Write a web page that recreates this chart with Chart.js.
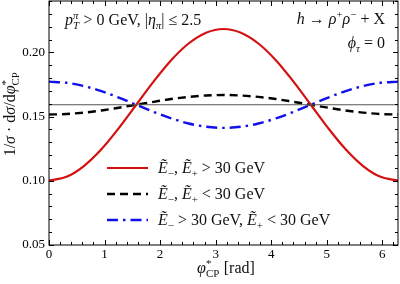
<!DOCTYPE html>
<html><head><meta charset="utf-8">
<script src="https://cdn.jsdelivr.net/npm/chart.js@4.4.0/dist/chart.umd.min.js"></script>
<style>html,body{margin:0;padding:0;background:#fff}#wrap{width:400px;height:284px;position:relative}</style>
</head><body><div id="wrap"><canvas id="c"></canvas></div>
<script>
// ---- data ----
const phiCP = [0, 0.3142, 0.6283, 0.9425, 1.2566, 1.5708, 1.8850, 2.1991, 2.5133, 2.8274, 3.1416,
               3.4558, 3.7699, 4.0841, 4.3982, 4.7124, 5.0265, 5.3407, 5.6549, 5.9690, 6.2832];
const redVals = [0.1002, 0.1031, 0.1115, 0.1245, 0.1410, 0.1592, 0.1774, 0.1939, 0.2069, 0.2153, 0.2182,
                 0.2153, 0.2069, 0.1939, 0.1774, 0.1592, 0.1410, 0.1245, 0.1115, 0.1031, 0.1002];
const blackVals = [0.1516, 0.1520, 0.1531, 0.1547, 0.1569, 0.1592, 0.1615, 0.1637, 0.1653, 0.1664, 0.1668,
                   0.1664, 0.1653, 0.1637, 0.1615, 0.1592, 0.1569, 0.1547, 0.1531, 0.1520, 0.1516];
const blueVals = [0.1772, 0.1763, 0.1738, 0.1698, 0.1648, 0.1592, 0.1536, 0.1486, 0.1446, 0.1421, 0.1412,
                  0.1421, 0.1446, 0.1486, 0.1536, 0.1592, 0.1648, 0.1698, 0.1738, 0.1763, 0.1772];
const flatX = [0, 6.2832];
const flatVals = [0.1592, 0.1592];
const xTickVals = [0, 1, 2, 3, 4, 5, 6];
const yTickVals = [0.05, 0.10, 0.15, 0.20];
const xRange = [0, 6.2832];
const yRange = [0.05, 0.24];

// ---- styling ----
const SERIF = '"Liberation Serif", "DejaVu Serif", serif';
const RED = 'rgb(212,16,16)', BLUE = 'rgb(16,16,235)', BLACK = '#000';
const BASE = 16;

function runFont(r, base){ return (r.i ? 'italic ' : '') + (base*(r.s||1)).toFixed(1) + 'px ' + SERIF; }
function runWidth(ctx, r, base){
  if (r.sup || r.sub){
    let w = 0;
    for (const p of [r.sup, r.sub]) if (p){ ctx.font = runFont(p, base); w = Math.max(w, ctx.measureText(p.t).width); }
    return w + 0.5;
  }
  ctx.font = runFont(r, base); return ctx.measureText(r.t).width;
}
function drawRuns(ctx, x, y, runs, base, align){
  const total = runs.reduce((a, r) => a + runWidth(ctx, r, base), 0);
  if (align === 'right') x -= total; else if (align === 'center') x -= total/2;
  ctx.textAlign = 'left'; ctx.textBaseline = 'alphabetic';
  for (const r of runs){
    if (r.sup || r.sub){
      for (const p of [r.sup, r.sub]) if (p){ ctx.font = runFont(p, base); ctx.fillText(p.t, x, y + p.dy); }
    } else { ctx.font = runFont(r, base); ctx.fillText(r.t, x, y + (r.dy||0)); }
    x += runWidth(ctx, r, base);
  }
}
const SUP = -6, SUB = 3.5, SM = 0.68;
const topLeftRuns = [{t:'p',i:1},{sup:{t:'π',i:1,s:SM,dy:SUP},sub:{t:'T',i:1,s:SM,dy:SUB}},{t:' > 0 GeV, |'},{t:'η',i:1},{t:'π',i:1,s:SM,dy:SUB},{t:'| ≤ 2.5'}];
const topRightRuns = [{t:'h',i:1},{t:' → '},{t:'ρ',i:1},{t:'+',s:SM,dy:SUP},{t:'ρ',i:1},{t:'−',s:SM,dy:SUP},{t:' + X'}];
const phiTauRuns = [{t:'ϕ',i:1},{t:'τ',i:1,s:SM,dy:SUB},{t:' = 0'}];
const legendRuns = [
  [{t:'Ẽ',i:1},{t:'−',s:SM,dy:SUB},{t:', '},{t:'Ẽ',i:1},{t:'+',s:SM,dy:SUB},{t:' > 30 GeV'}],
  [{t:'Ẽ',i:1},{t:'−',s:SM,dy:SUB},{t:', '},{t:'Ẽ',i:1},{t:'+',s:SM,dy:SUB},{t:' < 30 GeV'}],
  [{t:'Ẽ',i:1},{t:'−',s:SM,dy:SUB},{t:' > 30 GeV, '},{t:'Ẽ',i:1},{t:'+',s:SM,dy:SUB},{t:' < 30 GeV'}]
];
const xTitleRuns = [{t:'φ',i:1},{sup:{t:'*',s:SM,dy:SUP},sub:{t:'CP',s:SM,dy:SUB}},{t:' [rad]'}];
const yTitleRuns = [{t:'1/'},{t:'σ',i:1},{t:' · d'},{t:'σ',i:1},{t:'/d'},{t:'φ',i:1},{sup:{t:'*',s:SM,dy:SUP},sub:{t:'CP',s:SM,dy:SUB}}];

const seriesStyles = [
  {color: RED, width: 2.2, dash: []},
  {color: BLACK, width: 2.4, dash: [8, 5]},
  {color: BLUE, width: 2.4, dash: [11, 5, 2.5, 5]}
];

const pts = (xs, ys) => xs.map((x, i) => ({x, y: ys[i]}));

const framePlugin = {
  id: 'frame',
  afterDatasetsDraw(chart){
    const ctx = chart.ctx, a = chart.chartArea, xs = chart.scales.x, ys = chart.scales.y;
    ctx.save();
    ctx.strokeStyle = '#000'; ctx.lineWidth = 1; ctx.setLineDash([]);
    ctx.strokeRect(a.left, a.top, a.right - a.left, a.bottom - a.top);
    ctx.beginPath();
    for (let k = 0; k <= 31; k++){
      const v = k*0.2; if (v > xRange[1]) break;
      const px = Math.round(xs.getPixelForValue(v)) + 0.5;
      const len = (k % 5 === 0) ? 5 : 3;
      ctx.moveTo(px, a.bottom); ctx.lineTo(px, a.bottom - len);
      ctx.moveTo(px, a.top); ctx.lineTo(px, a.top + len);
    }
    for (let k = 5; k <= 24; k++){
      const py = Math.round(ys.getPixelForValue(k/100)) + 0.5;
      const len = (k % 5 === 0) ? 5 : 3;
      ctx.moveTo(a.left, py); ctx.lineTo(a.left + len, py);
      ctx.moveTo(a.right, py); ctx.lineTo(a.right - len, py);
    }
    ctx.stroke();

    ctx.fillStyle = '#111';
    drawRuns(ctx, 65, 25, topLeftRuns, BASE, 'left');
    drawRuns(ctx, 385, 24, topRightRuns, BASE, 'right');
    drawRuns(ctx, 385, 48, phiTauRuns, BASE, 'right');

    const ly = [168, 194, 220], ty = [173, 199, 225];
    seriesStyles.forEach((s, i) => {
      ctx.strokeStyle = s.color; ctx.lineWidth = s.width; ctx.setLineDash(s.dash);
      ctx.beginPath(); ctx.moveTo(107, ly[i]); ctx.lineTo(148, ly[i]); ctx.stroke();
      ctx.setLineDash([]);
      drawRuns(ctx, 158, ty[i], legendRuns[i], BASE, 'left');
    });

    drawRuns(ctx, 226, 273, xTitleRuns, BASE, 'center');
    ctx.save();
    ctx.translate(15, 114); ctx.rotate(-Math.PI/2);
    drawRuns(ctx, 0, 0, yTitleRuns, BASE, 'center');
    ctx.restore();
    ctx.restore();
  }
};

new Chart(document.getElementById('c'), {
  type: 'line',
  data: {
    datasets: [
      {data: pts(flatX, flatVals), borderColor: '#555', borderWidth: 1, pointRadius: 0, tension: 0},
      {data: pts(phiCP, redVals), borderColor: RED, borderWidth: 2.2, pointRadius: 0, cubicInterpolationMode: 'monotone'},
      {data: pts(phiCP, blackVals), borderColor: BLACK, borderWidth: 2.4, borderDash: [8, 5], pointRadius: 0, cubicInterpolationMode: 'monotone'},
      {data: pts(phiCP, blueVals), borderColor: BLUE, borderWidth: 2.4, borderDash: [11, 5, 2.5, 5], pointRadius: 0, cubicInterpolationMode: 'monotone'}
    ]
  },
  options: {
    responsive: true, maintainAspectRatio: false, animation: false,
    layout: {padding: {top: 1, right: 2, left: 0, bottom: 0}},
    plugins: {legend: {display: false}, tooltip: {enabled: false}},
    scales: {
      x: {
        type: 'linear', min: xRange[0], max: xRange[1],
        grid: {display: false, drawTicks: false}, border: {display: false},
        afterBuildTicks: s => { s.ticks = xTickVals.map(v => ({value: v})); },
        afterFit: s => { s.height = 39; s.paddingLeft = 0; s.paddingRight = 0; },
        ticks: {padding: 2, color: '#000', font: {family: SERIF, size: 13}, maxRotation: 0, callback: v => String(v)}
      },
      y: {
        min: yRange[0], max: yRange[1],
        grid: {display: false, drawTicks: false}, border: {display: false},
        afterBuildTicks: s => { s.ticks = yTickVals.map(v => ({value: v})); },
        afterFit: s => { s.width = 49; s.paddingTop = 0; s.paddingBottom = 0; },
        ticks: {padding: 4, color: '#000', font: {family: SERIF, size: 13}, callback: v => v.toFixed(2)}
      }
    }
  },
  plugins: [framePlugin]
});
</script></body></html>
